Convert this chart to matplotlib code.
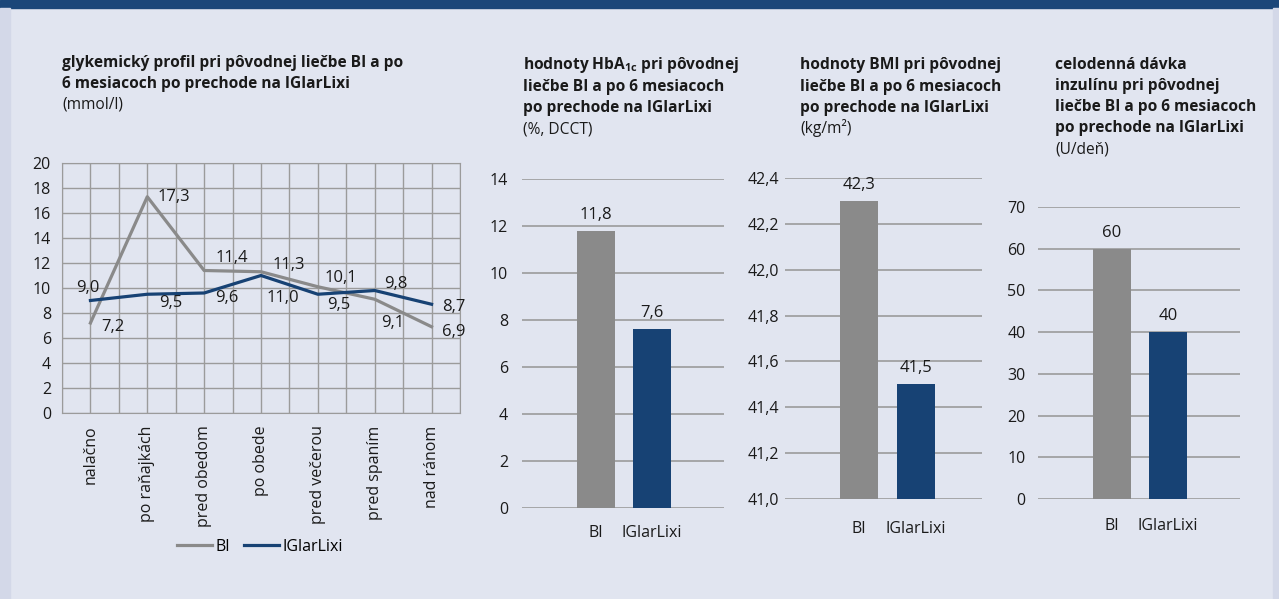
import numpy as np
import matplotlib
matplotlib.use('Agg')
import matplotlib.pyplot as plt
from matplotlib.patches import Rectangle

plt.rcParams['font.family'] = ['Open Sans', 'DejaVu Sans']
plt.rcParams['mathtext.fontset'] = 'custom'
plt.rcParams['mathtext.rm'] = 'Open Sans'
plt.rcParams['mathtext.bf'] = 'Open Sans:bold'

# data
times = ['nalačno', 'po raňajkách', 'pred obedom', 'po obede',
         'pred večerou', 'pred spaním', 'nad ránom']
bi_profile = [7.2, 17.3, 11.4, 11.3, 10.1, 9.1, 6.9]
iglar_profile = [9.0, 9.5, 9.6, 11.0, 9.5, 9.8, 8.7]

groups = ['BI', 'IGlarLixi']
hba1c = [11.8, 7.6]
bmi = [42.3, 41.5]
insulin = [60, 40]

GRAY = '#8a8a8a'
BLUE = '#174274'
BG = '#e1e5f0'
GRID = '#9b9b9b'
W, H = 1279, 599

fig = plt.figure(figsize=(W / 100, H / 100), dpi=100, facecolor=BG)


def box(l, t, r, b):
    return [l / W, 1 - b / H, (r - l) / W, (b - t) / H]


def ftext(x, y, s, **kw):
    fig.text(x / W, 1 - y / H, s, va='baseline', ha='left', color='#1a1a1a', **kw)


# frame decorations
fig.patches.append(Rectangle((0, 1 - 8 / H), 1, 8 / H, transform=fig.transFigure,
                             color='#1b4679', zorder=0))
fig.patches.append(Rectangle((0, 0), 10 / W, 1 - 8 / H, transform=fig.transFigure,
                             color='#d3d8e8', zorder=0))
fig.patches.append(Rectangle((1273 / W, 0), 6 / W, 1 - 8 / H, transform=fig.transFigure,
                             color='#d3d8e8', zorder=0))

FS = 11.5     # tick labels
DS = 12       # data labels
TS = 11.2     # titles

# ---- line chart
ax1 = fig.add_axes(box(62, 163, 460, 413))
ax1.set_facecolor(BG)
x = np.arange(len(times))
ax1.plot(x, bi_profile, color=GRAY, lw=2.3, label='BI', zorder=3)
ax1.plot(x, iglar_profile, color=BLUE, lw=2.3, label='IGlarLixi', zorder=4)
ax1.set_xlim(-0.5, 6.5)
ax1.set_ylim(0, 20)
ax1.set_yticks(range(0, 21, 2))
ax1.set_xticks(x)
ax1.set_xticklabels(times, rotation=90, fontsize=FS, va='top')
for v in np.arange(-0.5, 6.6, 0.5):
    ax1.axvline(v, color=GRID, lw=1, zorder=1)
for v in range(0, 21, 2):
    ax1.axhline(v, color=GRID, lw=1, zorder=1)
for s in ax1.spines.values():
    s.set_color(GRID)
ax1.tick_params(length=0, labelsize=FS, colors='#1a1a1a')
ax1.tick_params(axis='y', pad=8)
ax1.tick_params(axis='x', pad=9)

bi_off = [(22, -4), (27, 0), (28, 12), (28, 7), (23, 9), (18, -24), (22, -5)]
ig_off = [(-3, 12), (23, -9), (23, -5), (22, -22), (21, -11), (21, 7), (22, -3)]
for i in range(len(times)):
    ax1.annotate(f'{bi_profile[i]:.1f}'.replace('.', ','), (i, bi_profile[i]),
                 xytext=bi_off[i], textcoords='offset pixels',
                 ha='center', va='center', fontsize=DS, color='#1a1a1a', zorder=5)
    ax1.annotate(f'{iglar_profile[i]:.1f}'.replace('.', ','), (i, iglar_profile[i]),
                 xytext=ig_off[i], textcoords='offset pixels',
                 ha='center', va='center', fontsize=DS, color='#1a1a1a', zorder=5)

fig.legend(*ax1.get_legend_handles_labels(), loc='center', ncol=2,
           bbox_to_anchor=(260 / W, 1 - 547 / H), frameon=False, fontsize=FS,
           handlelength=2.2, handletextpad=0.2, columnspacing=0.9)

ftext(62, 67, 'glykemický profil pri pôvodnej liečbe BI a po', fontsize=TS, fontweight='bold')
ftext(62, 88, '6 mesiacoch po prechode na IGlarLixi', fontsize=TS, fontweight='bold')
ftext(62, 109, '(mmol/l)', fontsize=TS)


# ---- bar charts
def bar_panel(rect, vals, ylim, step, fmt, xl, pad_y, pad_x):
    ax = fig.add_axes(rect)
    ax.set_facecolor(BG)
    ax.patch.set_alpha(0)
    ax.bar([0, 1], vals, width=0.68, color=[GRAY, BLUE], zorder=3)
    ax.set_ylim(*ylim)
    ax.set_xlim(*xl)
    ticks = np.arange(ylim[0], ylim[1] + step / 2, step)
    ax.set_yticks(ticks)
    ax.set_yticklabels([fmt(t) for t in ticks])
    for t in ticks:
        ax.axhline(t, color=GRID, lw=1.2, zorder=1)
    ax.set_xticks([0, 1])
    ax.set_xticklabels(groups)
    for s in ax.spines.values():
        s.set_visible(False)
    ax.tick_params(length=0, labelsize=FS, colors='#1a1a1a')
    ax.tick_params(axis='y', pad=pad_y)
    ax.tick_params(axis='x', pad=pad_x)
    for i, v in enumerate(vals):
        lab = f'{v:.1f}'.replace('.', ',') if isinstance(v, float) else str(v)
        ax.annotate(lab, (i, v), xytext=(0, 8), textcoords='offset pixels',
                    ha='center', va='bottom', fontsize=DS, color='#1a1a1a')
    return ax


bar_panel(box(522, 179, 724, 508), hba1c, (0, 14), 2, lambda t: f'{t:.0f}',
          (-1.32, 2.29), 10, 12)
bar_panel(box(785, 178, 982, 499), bmi, (41.0, 42.4), 0.2,
          lambda t: f'{t:.1f}'.replace('.', ','), (-1.30, 2.16), 4, 16)
bar_panel(box(1038, 207, 1240, 499), insulin, (0, 70), 10, lambda t: f'{t:.0f}',
          (-1.32, 2.29), 9, 14)

ftext(523, 69, r'hodnoty HbA$_{\mathbf{1c}}$ pri pôvodnej', fontsize=TS, fontweight='bold')
ftext(523, 91, 'liečbe BI a po 6 mesiacoch', fontsize=TS, fontweight='bold')
ftext(523, 112, 'po prechode na IGlarLixi', fontsize=TS, fontweight='bold')
ftext(523, 133, '(%, DCCT)', fontsize=TS)

ftext(800, 69, 'hodnoty BMI pri pôvodnej', fontsize=TS, fontweight='bold')
ftext(800, 91, 'liečbe BI a po 6 mesiacoch', fontsize=TS, fontweight='bold')
ftext(800, 112, 'po prechode na IGlarLixi', fontsize=TS, fontweight='bold')
ftext(800, 133, '(kg/m²)', fontsize=TS)

ftext(1055, 69, 'celodenná dávka', fontsize=TS, fontweight='bold')
ftext(1055, 90, 'inzulínu pri pôvodnej', fontsize=TS, fontweight='bold')
ftext(1055, 111, 'liečbe BI a po 6 mesiacoch', fontsize=TS, fontweight='bold')
ftext(1055, 132, 'po prechode na IGlarLixi', fontsize=TS, fontweight='bold')
ftext(1055, 153, '(U/deň)', fontsize=TS)

fig.savefig('out.png', dpi=100, facecolor=BG)
